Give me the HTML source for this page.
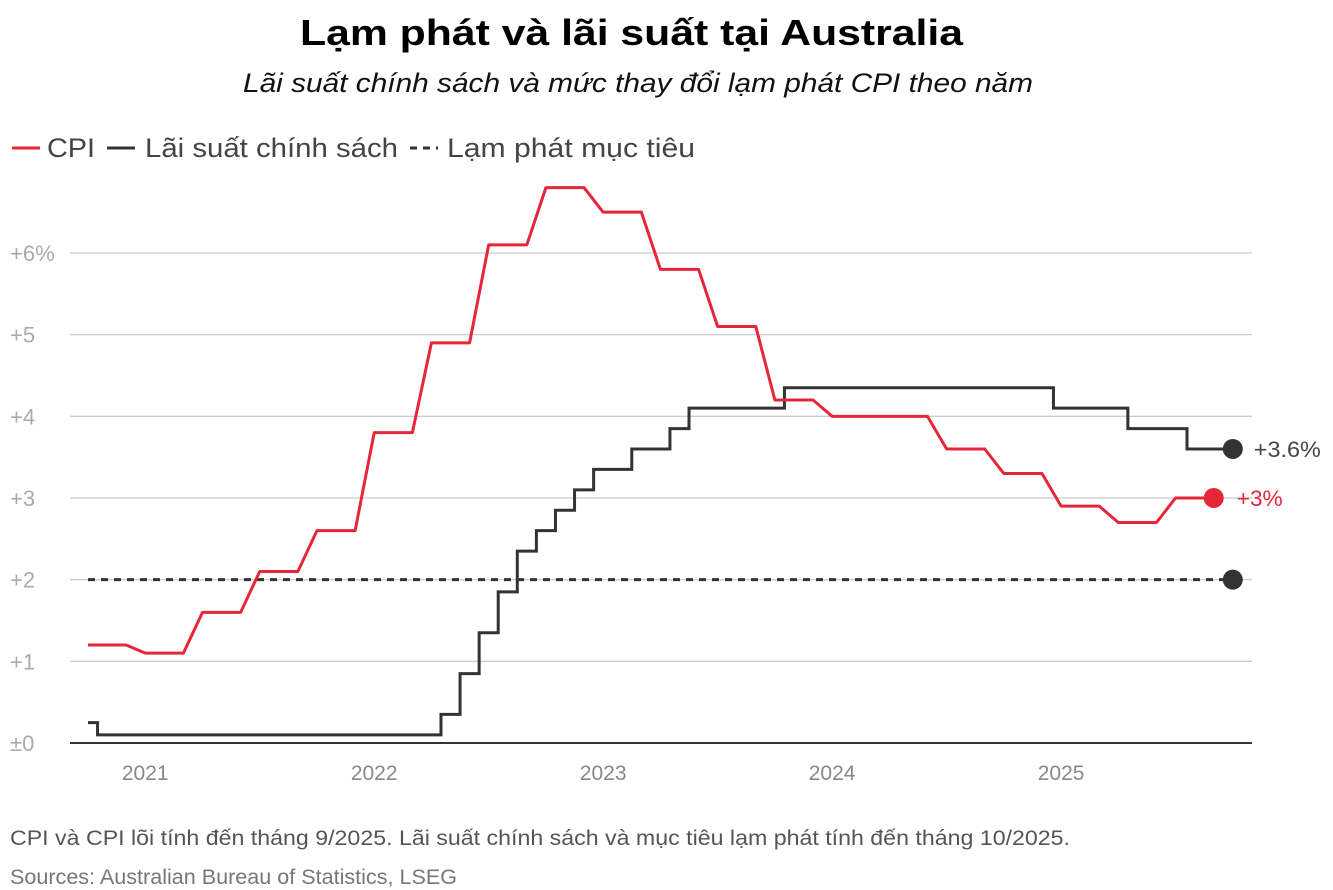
<!DOCTYPE html>
<html><head><meta charset="utf-8"><style>
body{margin:0;background:#fff;width:1333px;height:890px;overflow:hidden;font-family:"Liberation Sans","DejaVu Sans",sans-serif}
</style></head><body>
<svg width="1333" height="890" style="position:absolute;left:0;top:0">
<text x="300" y="45" textLength="663" lengthAdjust="spacingAndGlyphs" font-size="36" font-weight="bold" fill="#000">Lạm phát và lãi suất tại Australia</text>
<text x="243" y="92" textLength="790" lengthAdjust="spacingAndGlyphs" font-size="27" font-style="italic" fill="#111">Lãi suất chính sách và mức thay đổi lạm phát CPI theo năm</text>
<g font-size="27" fill="#444">
<line x1="12" y1="148" x2="40" y2="148" stroke="#e8263a" stroke-width="3"/>
<text x="47" y="157" textLength="48" lengthAdjust="spacingAndGlyphs">CPI</text>
<line x1="107" y1="148" x2="135" y2="148" stroke="#333" stroke-width="3"/>
<text x="145" y="157" textLength="253" lengthAdjust="spacingAndGlyphs">Lãi suất chính sách</text>
<line x1="410" y1="148" x2="438" y2="148" stroke="#333" stroke-width="3" stroke-dasharray="7,6"/>
<text x="447" y="157" textLength="248" lengthAdjust="spacingAndGlyphs">Lạm phát mục tiêu</text>
</g>
<g id="grid"></g><g id="plot"></g>
<text x="10" y="845" textLength="1060" lengthAdjust="spacingAndGlyphs" font-size="21" fill="#555">CPI và CPI lõi tính đến tháng 9/2025. Lãi suất chính sách và mục tiêu lạm phát tính đến tháng 10/2025.</text>
<text x="10" y="884" textLength="447" lengthAdjust="spacingAndGlyphs" font-size="21" fill="#777">Sources: Australian Bureau of Statistics, LSEG</text>
</svg>
<script>
const yTicks=[0,1,2,3,4,5,6];
const yTickLabels=["±0","+1","+2","+3","+4","+5","+6%"];
const xYears=[2021,2022,2023,2024,2025];
// CPI monthly values starting Oct 2020
const cpiValues=[1.2,1.2,1.2,1.1,1.1,1.1,1.6,1.6,1.6,2.1,2.1,2.1,2.6,2.6,2.6,3.8,3.8,3.8,4.9,4.9,4.9,6.1,6.1,6.1,6.8,6.8,6.8,6.5,6.5,6.5,5.8,5.8,5.8,5.1,5.1,5.1,4.2,4.2,4.2,4.0,4.0,4.0,4.0,4.0,4.0,3.6,3.6,3.6,3.3,3.3,3.3,2.9,2.9,2.9,2.7,2.7,2.7,3.0,3.0,3.0];
// policy rate changes: months since Oct 2020 and new rate
const rateMonths=[0,0.5,18.5,19.5,20.5,21.5,22.5,23.5,24.5,25.5,26.5,28.5,30.5,31.5,36.5,50.6,54.5,57.6,60];
const rateValues=[0.25,0.1,0.35,0.85,1.35,1.85,2.35,2.6,2.85,3.1,3.35,3.6,3.85,4.1,4.35,4.1,3.85,3.6,3.6];
const targetValue=2;
const targetRange=[0,60];

const ns="http://www.w3.org/2000/svg";
const X0=88, MW=19.08;
const xm=m=>X0+m*MW;
const xYear=yr=>xm((yr-2020.75)*12);
const y=v=>743-v*81.67;
function mk(tag,attrs,parent,txt){const e=document.createElementNS(ns,tag);for(const k in attrs)e.setAttribute(k,attrs[k]);if(txt!==undefined)e.textContent=txt;parent.appendChild(e);return e;}
const grid=document.getElementById('grid'),plot=document.getElementById('plot');
yTicks.forEach((t,i)=>{
 const g=mk('line',{x1:70,x2:1252,y1:y(t),y2:y(t),stroke:t===0?'#333':'#ccc','stroke-width':t===0?2:1.3},grid);
 
 
 const l=mk('text',{x:10,y:y(t)+8,'font-size':22,fill:'#aaa'},grid,yTickLabels[i]);
 
 
});
xYears.forEach(yr=>{
 const l=mk('text',{x:xYear(yr),y:780,'font-size':21,fill:'#888','text-anchor':'middle'},grid,String(yr));
 
 
});
const tl=mk('line',{x1:xm(targetRange[0]),x2:xm(targetRange[1]),y1:y(targetValue),y2:y(targetValue),stroke:'#333','stroke-width':3,'stroke-dasharray':'7,6'},plot);


const td=mk('circle',{cx:xm(targetRange[1]),cy:y(targetValue),r:10,fill:'#333'},plot);


let d='M'+xm(rateMonths[0])+','+y(rateValues[0]);
for(let i=1;i<rateMonths.length;i++){d+=' H'+xm(rateMonths[i])+' V'+y(rateValues[i]);}
const rp=mk('path',{d:d,fill:'none',stroke:'#333','stroke-width':3},plot);


const lr=rateMonths.length-1;
const rd=mk('circle',{cx:xm(rateMonths[lr]),cy:y(rateValues[lr]),r:10,fill:'#333'},plot);


const rl=mk('text',{x:xm(rateMonths[lr])+21,y:y(rateValues[lr])+8,'font-size':22,fill:'#444',textLength:67,lengthAdjust:'spacingAndGlyphs'},plot,'+'+rateValues[lr]+'%');


const cp=mk('path',{d:'M'+cpiValues.map((v,i)=>xm(i)+','+y(v)).join(' L'),fill:'none',stroke:'#e8263a','stroke-width':3,'stroke-linejoin':'round'},plot);


const lc=cpiValues.length-1;
const cd=mk('circle',{cx:xm(lc),cy:y(cpiValues[lc]),r:10,fill:'#e8263a'},plot);


const cl=mk('text',{x:xm(lc)+23,y:y(cpiValues[lc])+8,'font-size':22,fill:'#e8263a',textLength:46,lengthAdjust:'spacingAndGlyphs'},plot,'+'+cpiValues[lc]+'%');


</script>
</body></html>
